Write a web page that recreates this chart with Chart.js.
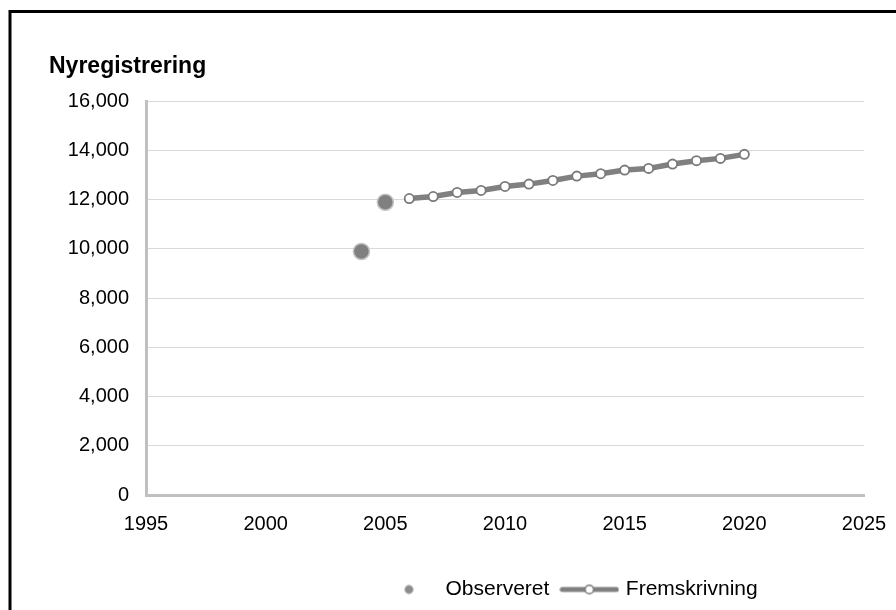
<!DOCTYPE html>
<html>
<head>
<meta charset="utf-8">
<title>Nyregistrering</title>
<script src="https://cdn.jsdelivr.net/npm/chart.js@4.4.1/dist/chart.umd.min.js"></script>
<style>
  html, body { margin: 0; padding: 0; background: #fff; overflow: hidden; }
  #chart { display: block; }
</style>
</head>
<body>
<canvas id="chart" width="896" height="610"></canvas>
<script>
// Observed registrations
const observedYears = [2004, 2005];
const observedValues = [9890, 11890];

// Projected registrations
const projectionYears = [2006, 2007, 2008, 2009, 2010, 2011, 2012, 2013, 2014, 2015, 2016, 2017, 2018, 2019, 2020];
const projectionValues = [12040, 12120, 12285, 12367, 12530, 12625, 12774, 12950, 13047, 13194, 13263, 13438, 13577, 13670, 13833];

// Axis ticks
const xTicks = [1995, 2000, 2005, 2010, 2015, 2020, 2025];
const yTicks = [0, 2000, 4000, 6000, 8000, 10000, 12000, 14000, 16000];

const seriesNames = ['Observeret', 'Fremskrivning'];
const yTitle = 'Nyregistrering';

const FONT = "'Liberation Sans', Arial, sans-serif";
const PLOT_BOTTOM = 494;

function toPoints(xs, ys) {
  return xs.map((x, i) => ({ x: x, y: ys[i] }));
}

// Legend swatches: a small dot, and a line with a hollow marker
function observedSwatch() {
  const c = document.createElement('canvas');
  c.width = 12; c.height = 12;
  const g = c.getContext('2d');
  g.beginPath();
  g.arc(6, 6, 4.3, 0, Math.PI * 2);
  g.fillStyle = '#8c8c8c';
  g.fill();
  g.lineWidth = 1;
  g.strokeStyle = '#c4c4c4';
  g.stroke();
  return c;
}
function projectionSwatch() {
  const c = document.createElement('canvas');
  c.width = 60; c.height = 14;
  const g = c.getContext('2d');
  g.beginPath();
  g.moveTo(3, 7); g.lineTo(57, 7);
  g.lineWidth = 5;
  g.lineCap = 'round';
  g.strokeStyle = '#808080';
  g.stroke();
  g.beginPath();
  g.arc(30, 7, 4.3, 0, Math.PI * 2);
  g.fillStyle = '#ffffff';
  g.fill();
  g.lineWidth = 1.6;
  g.strokeStyle = '#7a7a7a';
  g.stroke();
  return c;
}
const swatches = [observedSwatch(), projectionSwatch()];

// Outer frame and the y-axis caption
const framePlugin = {
  id: 'frame',
  beforeDraw(chart) {
    const ctx = chart.ctx;
    ctx.save();
    ctx.fillStyle = '#ffffff';
    ctx.fillRect(0, 0, chart.width, chart.height);
    ctx.strokeStyle = '#000000';
    ctx.lineWidth = 3;
    ctx.strokeRect(10, 11.5, 2000, 2000);
    ctx.fillStyle = '#000000';
    ctx.font = 'bold 23px ' + FONT;
    ctx.textBaseline = 'alphabetic';
    ctx.textAlign = 'left';
    ctx.fillText(yTitle, 49, 73);
    ctx.restore();
  }
};

// Place the legend row so it starts below the right half of the plot
const legendPlacement = {
  id: 'legendPlacement',
  afterLayout(chart) {
    const lg = chart.legend;
    if (!lg) return;
    const pad = lg.options.labels.padding;
    const shift = (383 - pad) - lg.left;
    lg.left += shift;
    lg.right = chart.width;
  }
};

new Chart(document.getElementById('chart'), {
  type: 'line',
  data: {
    datasets: [
      {
        label: seriesNames[0],
        data: toPoints(observedYears, observedValues),
        showLine: false,
        pointRadius: 8,
        pointBackgroundColor: '#808080',
        pointBorderColor: '#c2c2c2',
        pointBorderWidth: 1.5
      },
      {
        label: seriesNames[1],
        data: toPoints(projectionYears, projectionValues),
        borderColor: '#808080',
        borderWidth: 5.5,
        tension: 0,
        pointRadius: 4.6,
        pointBackgroundColor: '#ffffff',
        pointBorderColor: '#7a7a7a',
        pointBorderWidth: 1.8
      }
    ]
  },
  options: {
    responsive: false,
    animation: false,
    devicePixelRatio: 1,
    layout: { padding: { left: 0, right: 32, top: 101, bottom: 0 } },
    scales: {
      x: {
        type: 'linear',
        min: xTicks[0],
        max: xTicks[xTicks.length - 1],
        afterBuildTicks(scale) { scale.ticks = xTicks.map(v => ({ value: v })); },
        afterFit(scale) {
          const lg = scale.chart.legend;
          const lgH = lg && lg.height ? lg.height : 46;
          scale.height = scale.chart.height - PLOT_BOTTOM - lgH;
          scale.paddingLeft = 0;
          scale.paddingRight = 0;
        },
        grid: { display: false, drawTicks: false },
        border: { display: true, color: '#c0c0c0', width: 3 },
        ticks: {
          padding: 17,
          color: '#000000',
          font: { family: FONT, size: 20 },
          maxRotation: 0,
          callback: v => String(v)
        }
      },
      y: {
        min: yTicks[0],
        max: yTicks[yTicks.length - 1],
        afterBuildTicks(scale) { scale.ticks = yTicks.map(v => ({ value: v })); },
        afterFit(scale) { scale.width = 146; },
        grid: { color: '#d9d9d9', lineWidth: 1, drawTicks: false },
        border: { display: true, color: '#c0c0c0', width: 3 },
        ticks: {
          padding: 17,
          color: '#000000',
          font: { family: FONT, size: 20 },
          callback: v => v.toLocaleString('en-US')
        }
      }
    },
    plugins: {
      tooltip: { enabled: false },
      legend: {
        position: 'bottom',
        align: 'start',
        fullSize: false,
        labels: {
          usePointStyle: true,
          pointStyleWidth: 52,
          padding: 14,
          color: '#000000',
          font: { family: FONT, size: 21 },
          generateLabels: chart => chart.data.datasets.map((ds, i) => ({
            text: ds.label,
            pointStyle: swatches[i],
            fillStyle: 'rgba(0,0,0,0)',
            strokeStyle: 'rgba(0,0,0,0)',
            lineWidth: 0,
            hidden: false,
            datasetIndex: i,
            fontColor: '#000000'
          }))
        }
      }
    }
  },
  plugins: [framePlugin, legendPlacement]
});
</script>
</body>
</html>
